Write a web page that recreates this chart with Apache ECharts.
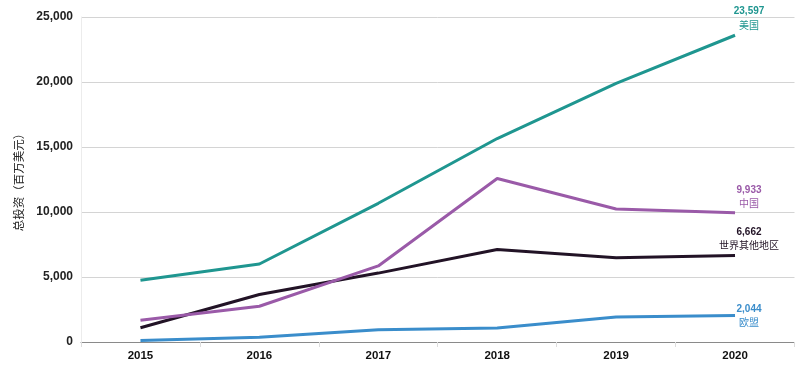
<!DOCTYPE html>
<html><head><meta charset="utf-8">
<script src="https://cdn.jsdelivr.net/npm/echarts@6/dist/echarts.min.js"></script>
<style>html,body{margin:0;padding:0;background:#fff}#c{width:800px;height:367px}</style>
</head><body><div id="c"></div>
<script>
const years = ['2015','2016','2017','2018','2019','2020'];
const usValues = [4750, 6000, 10670, 15650, 19900, 23597];
const chinaValues = [1670, 2750, 5850, 12580, 10230, 9933];
const restValues = [1100, 3650, 5300, 7120, 6480, 6662];
const euValues = [120, 370, 950, 1070, 1930, 2044];
const seriesNames = ['美国', '中国', '世界其他地区', '欧盟'];
const yTicks = [0, 5000, 10000, 15000, 20000, 25000];
const yAxisTitle = '总投资（百万美元）';

const colors = ['#1f9690', '#9a5aa8', '#221326', '#3a8dcb'];
const labelDist = [4, 3, 4, 0];
const allValues = [usValues, chinaValues, restValues, euValues];
const fmt = v => v.toLocaleString('en-US');

const series = allValues.map((vals, i) => ({
  name: seriesNames[i],
  type: 'line',
  symbol: 'circle',
  symbolSize: 0,
  showSymbol: true,
  lineStyle: { width: 3, color: colors[i] },
  itemStyle: { color: colors[i] },
  z: 10 - i,
  data: vals.map((v, j) => {
    if (j !== vals.length - 1) return v;
    return {
      value: v,
      label: {
        show: true,
        position: i === 3 ? 'inside' : 'top',
        distance: labelDist[i],
        offset: [14, 0],
        align: 'center',
        formatter: '{n|' + fmt(v) + '}\n{t|' + seriesNames[i] + '}',
        rich: {
          n: { fontSize: 10, fontWeight: 'bold', color: colors[i], lineHeight: 13, fontFamily: 'Liberation Sans, Arial, sans-serif' },
          t: { fontSize: 10, color: colors[i], lineHeight: 13, fontFamily: 'Noto Sans CJK SC, sans-serif' }
        }
      }
    };
  })
}));

const chart = echarts.init(document.getElementById('c'));
chart.setOption({
  animation: false,
  backgroundColor: '#fff',
  grid: { left: 81, right: 5.5, top: 17, bottom: 25 },
  xAxis: {
    type: 'category',
    data: years,
    boundaryGap: true,
    axisLine: { lineStyle: { color: '#8a8a8a', width: 1 } },
    axisTick: { show: true, length: 5, lineStyle: { color: '#dddddd' } },
    axisLabel: { color: '#111', fontSize: 11.5, fontWeight: 'bold', margin: 8, fontFamily: 'Liberation Sans, Arial, sans-serif' }
  },
  yAxis: {
    type: 'value',
    min: yTicks[0],
    max: yTicks[yTicks.length - 1],
    interval: 5000,
    name: yAxisTitle,
    nameLocation: 'middle',
    nameRotate: 90,
    nameGap: 57,
    nameTextStyle: { color: '#222', fontSize: 11.5, fontFamily: 'Noto Sans CJK SC, sans-serif' },
    axisLine: { show: true, lineStyle: { color: '#ececec' } },
    axisTick: { show: false },
    splitLine: { lineStyle: { color: '#d4d4d4', width: 1 } },
    axisLabel: { color: '#222', fontSize: 12, fontWeight: 'bold', margin: 8, formatter: v => fmt(v), fontFamily: 'Liberation Sans, Arial, sans-serif' }
  },
  series: series
});
</script></body></html>
